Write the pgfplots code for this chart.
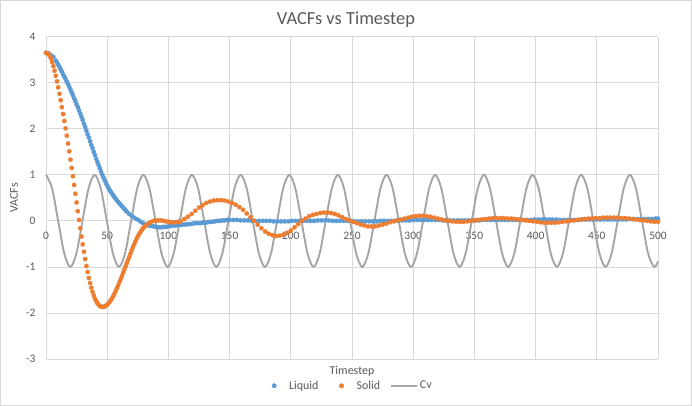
\documentclass[border=0pt]{standalone}
\usepackage{fontspec}
\setmainfont{Carlito}
\usepackage{pgfplots}
\pgfplotsset{compat=1.18}
\definecolor{liq}{HTML}{5B9BD5}
\definecolor{sol}{HTML}{ED7D31}
\definecolor{cvc}{HTML}{A5A5A5}
\definecolor{gridc}{HTML}{D9D9D9}
\definecolor{txt}{HTML}{595959}
\pgfplotsset{
  dotleg/.style={legend image code/.code={\path[draw=none,fill=none] (0bp,0bp) -- (26bp,0bp); \fill[##1] (13bp,0bp) circle (2.2bp);}},
  lineleg/.style={legend image code/.code={\draw[##1] (0bp,0bp) -- (26bp,0bp);}}
}
\begin{document}
\begin{tikzpicture}
\begin{axis}[
  scale only axis, width=612bp, height=322.3bp,
  xmin=0, xmax=500, ymin=-3, ymax=4,
  xtick={0,50,...,500}, ytick={-3,-2,...,4},
  grid=major, major grid style={gridc, line width=0.75bp},
  axis line style={draw=none},
  major tick length=0pt,
  clip=false,
  /pgf/number format/assume math mode=true,
  ticklabel style={font=\fontsize{11.5}{13}\selectfont, text=txt},
  xticklabel style={anchor=center, yshift=123bp},
  yticklabel style={anchor=east, xshift=-7bp},
  title={VACFs vs Timestep},
  title style={at={(axis description cs:0.4902,1)}, anchor=base, yshift=6.7bp, inner sep=0pt, font=\fontsize{18.5}{20}\selectfont, text=txt},
  xlabel={Timestep},
  xlabel style={at={(axis description cs:0.5,0)}, anchor=center, yshift=-12bp, font=\fontsize{12}{14}\selectfont, text=txt},
  ylabel={VACFs},
  ylabel style={at={(axis description cs:-0.0523,0.5)}, anchor=center, font=\fontsize{12}{14}\selectfont, text=txt},
  legend columns=3,
  legend style={at={(axis description cs:0.4926,-0.083)}, anchor=center, draw=none, fill=none,
    font=\fontsize{12}{14}\selectfont, text=txt, column sep=0pt,
    /tikz/every even column/.append style={column sep=8bp}},
]
\addplot[only marks, mark=*, mark size=2.2bp, color=liq, mark options={fill=liq, draw=liq, line width=0.2bp}, dotleg]
coordinates {
(0,3.65)(2,3.64)(4,3.60)(6,3.56)(8,3.48)
(9,3.44)(10,3.39)(11,3.34)(12,3.29)(13,3.24)(14,3.18)(15,3.13)(16,3.08)(17,3.02)(18,2.97)
(19,2.91)(20,2.85)(21,2.79)(22,2.73)(23,2.66)(24,2.60)(25,2.53)(26,2.47)(27,2.40)(28,2.33)
(29,2.26)(30,2.19)(31,2.11)(32,2.04)(33,1.96)(34,1.88)(35,1.81)(36,1.73)(37,1.65)(38,1.58)
(39,1.50)(40,1.43)(41,1.35)(42,1.28)(43,1.21)(44,1.14)(45,1.07)(46,1.00)(47,0.94)(48,0.88)
(49,0.82)(50,0.77)(51,0.72)(52,0.67)(53,0.63)(54,0.59)(55,0.55)(56,0.51)(57,0.48)(58,0.44)
(59,0.41)(60,0.38)(61,0.35)(62,0.32)(63,0.29)(64,0.26)(65,0.23)(66,0.20)
(68,0.15)(70,0.11)(72,0.07)(74,0.04)(76,0.01)(78,-0.03)(80,-0.06)(82,-0.08)(84,-0.10)(86,-0.11)
(88,-0.12)(90,-0.13)(92,-0.14)(94,-0.14)(96,-0.13)(98,-0.13)(100,-0.12)(102,-0.11)(104,-0.10)(106,-0.10)
(108,-0.09)(110,-0.09)(112,-0.08)(114,-0.08)(116,-0.07)(118,-0.07)(120,-0.06)(122,-0.05)(124,-0.05)(126,-0.05)
(128,-0.04)(130,-0.04)(132,-0.03)(134,-0.02)(136,-0.02)(138,-0.01)(140,0.00)(142,0.00)(144,0.01)(146,0.01)(148,0.02)
(150,0.02)(153,0.02)(156,0.02)(159,0.01)(162,0.01)(165,0.01)(168,0.00)(171,0.00)(174,0.00)(177,0.00)
(180,0.00)(183,0.00)(186,-0.01)(189,-0.01)(192,-0.01)(195,-0.01)(198,-0.01)(201,0.00)(204,0.00)(207,0.00)
(210,0.00)(213,0.00)(216,0.00)(219,0.00)(222,0.01)(225,0.01)(228,0.01)(231,0.01)(234,0.00)(237,0.00)
(240,0.00)(243,0.00)(246,0.00)(249,0.00)(252,-0.01)(255,-0.01)(258,-0.01)(261,-0.01)(264,-0.01)(267,-0.01)
(270,-0.01)(273,0.00)(276,0.00)(279,0.00)(282,0.00)(285,0.00)(288,0.01)(291,0.01)(294,0.01)(297,0.01)
(300,0.02)(303,0.02)(306,0.02)(309,0.02)(312,0.02)(315,0.02)(318,0.02)(321,0.02)(324,0.01)(327,0.01)
(330,0.01)(333,0.01)(336,0.01)(339,0.01)(342,0.01)(345,0.01)(348,0.01)(351,0.01)(354,0.01)(357,0.02)
(360,0.02)(363,0.02)(366,0.02)(369,0.02)(372,0.02)(375,0.02)(378,0.02)(381,0.02)(384,0.02)(387,0.02)
(390,0.02)(393,0.02)(396,0.02)(399,0.03)(402,0.03)(405,0.03)(408,0.03)(411,0.03)(414,0.03)(417,0.03)
(420,0.02)(423,0.02)(426,0.02)(429,0.02)(432,0.02)(435,0.02)(438,0.03)(441,0.03)(444,0.03)(447,0.03)
(450,0.03)(453,0.03)(456,0.03)(459,0.03)(462,0.03)(465,0.03)(468,0.03)(471,0.03)(474,0.03)(477,0.04)
(480,0.04)(483,0.04)(486,0.04)(489,0.04)(492,0.04)(495,0.04)(498,0.05)(500,0.05)
};
\addlegendentry{Liquid}
\addplot[only marks, mark=*, mark size=2.2bp, color=sol, mark options={fill=sol, draw=sol, line width=0.2bp}, dotleg]
coordinates {
(0,3.65)(1,3.64)(2,3.62)(3,3.59)(4,3.53)(5,3.45)(6,3.36)(7,3.26)(8,3.15)(9,3.03)
(10,2.90)(11,2.76)(12,2.62)(13,2.47)(14,2.32)(15,2.17)(16,2.01)(17,1.85)(18,1.68)(19,1.51)
(20,1.33)(21,1.15)(22,0.97)(23,0.78)(24,0.59)(25,0.40)(26,0.21)(27,0.02)(28,-0.16)(29,-0.34)
(30,-0.51)(31,-0.67)(32,-0.83)(33,-0.98)(34,-1.11)(35,-1.24)(36,-1.35)(37,-1.45)(38,-1.54)(39,-1.62)
(40,-1.69)(41,-1.74)(42,-1.79)(43,-1.82)(44,-1.85)(45,-1.86)(46,-1.87)(47,-1.87)(48,-1.86)(49,-1.84)
(50,-1.82)(51,-1.79)(52,-1.76)(53,-1.72)(54,-1.68)(55,-1.63)(56,-1.58)(57,-1.52)(58,-1.46)(59,-1.40)
(60,-1.33)(61,-1.27)(62,-1.20)(63,-1.13)(64,-1.06)(65,-0.99)(66,-0.92)(67,-0.85)(68,-0.78)(69,-0.71)
(70,-0.64)(71,-0.57)(72,-0.51)(73,-0.45)(74,-0.39)(75,-0.34)(76,-0.29)(77,-0.25)(78,-0.21)(79,-0.17)
(80,-0.14)(81,-0.11)(82,-0.09)(84,-0.05)(86,-0.02)(88,0.00)(90,0.01)(92,0.01)(94,0.01)(96,0.00)
(98,-0.01)(100,-0.02)(102,-0.03)(104,-0.03)(106,-0.03)(108,-0.02)(110,-0.01)
(113,0.04)(116,0.09)(119,0.15)(122,0.22)(125,0.29)(128,0.34)(131,0.39)(134,0.42)(137,0.44)(140,0.45)
(143,0.45)(146,0.44)(149,0.42)(152,0.39)(155,0.35)(158,0.30)(161,0.24)(164,0.16)(167,0.08)(170,0.00)
(173,-0.08)(176,-0.16)(179,-0.23)(182,-0.28)(185,-0.31)(188,-0.33)(191,-0.32)(194,-0.30)(197,-0.26)(200,-0.21)
(203,-0.14)(206,-0.07)(209,0.00)(212,0.05)(215,0.10)(218,0.13)(221,0.15)(224,0.17)(227,0.18)(230,0.18)
(233,0.17)(236,0.15)(239,0.12)(242,0.08)(245,0.04)(248,0.01)(251,-0.02)(254,-0.05)(257,-0.08)(260,-0.10)
(263,-0.12)(266,-0.12)(269,-0.12)(272,-0.10)(275,-0.08)(278,-0.06)(281,-0.03)(284,-0.01)(287,0.01)(290,0.03)
(293,0.05)(296,0.07)(299,0.09)(302,0.10)(305,0.11)(308,0.11)(311,0.10)(314,0.09)(317,0.07)(320,0.05)
(323,0.03)(326,0.01)(329,0.00)(332,-0.01)(335,-0.02)(338,-0.02)(341,-0.02)(344,-0.01)(347,0.00)(350,0.01)
(353,0.02)(356,0.03)(359,0.04)(362,0.05)(365,0.06)(368,0.06)(371,0.06)(374,0.06)(377,0.05)(380,0.05)
(383,0.04)(386,0.03)(389,0.02)(392,0.01)(395,0.00)(398,-0.01)(401,-0.02)(404,-0.03)(407,-0.04)(410,-0.04)
(413,-0.04)(416,-0.04)(419,-0.03)(422,-0.02)(425,-0.01)(428,0.00)(431,0.01)(434,0.02)(437,0.03)(440,0.04)
(443,0.05)(446,0.05)(449,0.06)(452,0.06)(455,0.07)(458,0.07)(461,0.07)(464,0.07)(467,0.07)(470,0.06)
(473,0.06)(476,0.05)(479,0.04)(482,0.03)(485,0.02)(488,0.01)(491,0.00)(494,-0.01)(497,-0.02)(500,-0.02)
};
\addlegendentry{Solid}
\addplot[smooth, color=cvc, line width=1.9bp, no marks, lineleg]
coordinates {
(0,1)(4.97,0.707)(9.94,0)(14.91,-0.707)(19.88,-1)(24.84,-0.707)(29.81,0)(34.78,0.707)
(39.75,1)(44.72,0.707)(49.69,0)(54.66,-0.707)(59.63,-1)(64.59,-0.707)(69.56,0)(74.53,0.707)
(79.5,1)(84.47,0.707)(89.44,0)(94.41,-0.707)(99.38,-1)(104.34,-0.707)(109.31,0)(114.28,0.707)
(119.25,1)(124.22,0.707)(129.19,0)(134.16,-0.707)(139.13,-1)(144.09,-0.707)(149.06,0)(154.03,0.707)
(159,1)(163.97,0.707)(168.94,0)(173.91,-0.707)(178.88,-1)(183.84,-0.707)(188.81,0)(193.78,0.707)
(198.75,1)(203.72,0.707)(208.69,0)(213.66,-0.707)(218.63,-1)(223.59,-0.707)(228.56,0)(233.53,0.707)
(238.5,1)(243.47,0.707)(248.44,0)(253.41,-0.707)(258.38,-1)(263.34,-0.707)(268.31,0)(273.28,0.707)
(278.25,1)(283.22,0.707)(288.19,0)(293.16,-0.707)(298.13,-1)(303.09,-0.707)(308.06,0)(313.03,0.707)
(318,1)(322.97,0.707)(327.94,0)(332.91,-0.707)(337.88,-1)(342.84,-0.707)(347.81,0)(352.78,0.707)
(357.75,1)(362.72,0.707)(367.69,0)(372.66,-0.707)(377.63,-1)(382.59,-0.707)(387.56,0)(392.53,0.707)
(397.5,1)(402.47,0.707)(407.44,0)(412.41,-0.707)(417.38,-1)(422.34,-0.707)(427.31,0)(432.28,0.707)
(437.25,1)(442.22,0.707)(447.19,0)(452.16,-0.707)(457.13,-1)(462.09,-0.707)(467.06,0)(472.03,0.707)
(477,1)(481.97,0.707)(486.94,0)(491.91,-0.707)(496.88,-1)(500,-0.88)
};
\addlegendentry{Cv}
\end{axis}
\pgfresetboundingbox
\draw[gridc, line width=0.75bp] (-45.5bp,-46.5bp) rectangle (645.5bp,358.5bp);
\path[use as bounding box] (-46bp,-47bp) rectangle (646bp,359bp);
\end{tikzpicture}
\end{document}
